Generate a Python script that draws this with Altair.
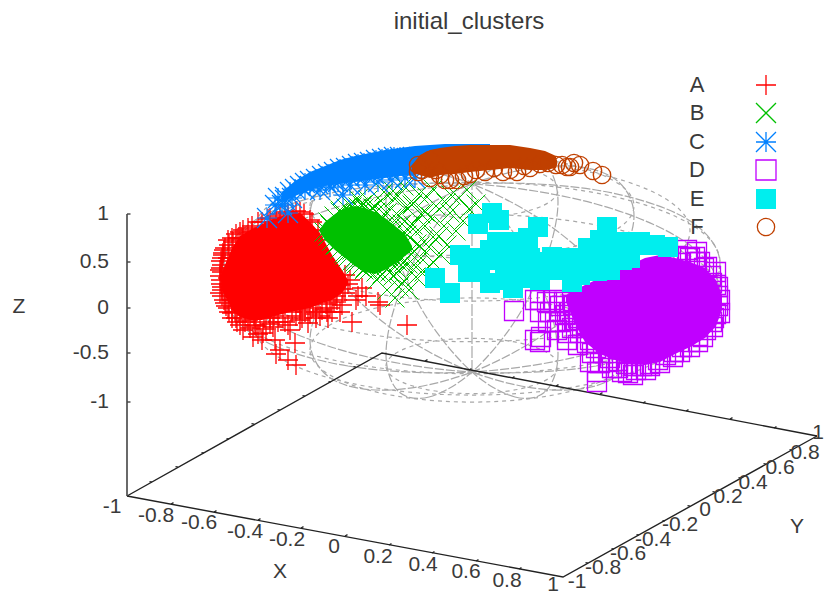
import altair as alt
import pandas as pd

FONT = "Liberation Sans"
TXT = "#3a3a3a"
GRAY = "#a8a8a8"
COL = dict(A="#ff0000", B="#00c000", C="#0080ff", D="#c000ff", E="#00eeee", F="#c04000")

# ---- everything is in projected screen units of the 3-D view ----
# outlines of the dense part of each cluster: x, top, bottom
red_core_x = [222, 232, 240, 250, 262, 275, 290, 300, 310, 320, 332, 342, 348]
red_core_t = [272, 248, 236, 230, 224, 218, 214, 213, 222, 233, 255, 270, 280]
red_core_b = [290, 310, 317, 320, 320, 316, 312, 310, 308, 304, 300, 293, 284]

green_core_x = [320, 325, 335, 345, 355, 365, 375, 385, 395, 405, 412]
green_core_t = [229, 222, 214, 208, 206, 208, 212, 218, 226, 234, 246]
green_core_b = [232, 240, 250, 258, 266, 272, 274, 270, 264, 256, 250]

blue_core_x = [282, 295, 310, 325, 340, 355, 370, 385, 400, 415, 430, 445, 460, 475, 490]
blue_core_t = [192, 181, 172, 166, 160, 156, 153, 150, 148, 146, 145, 144, 144, 144, 144]
blue_core_b = [202, 196, 190, 186, 184, 182, 180, 178, 176, 175, 170, 165, 160, 158, 155]

purple_core_x = [566, 575, 585, 600, 615, 630, 645, 660, 675, 690, 705, 716, 722]
purple_core_t = [295, 290, 285, 278, 272, 265, 258, 255, 258, 262, 268, 280, 295]
purple_core_b = [302, 324, 342, 354, 360, 364, 365, 362, 354, 347, 338, 326, 310]

brown_core_x = [412, 420, 430, 440, 455, 470, 490, 510, 530, 545, 556]
brown_core_t = [165, 155, 150, 148, 146, 145, 145, 145, 148, 151, 156]
brown_core_b = [172, 175, 178, 175, 174, 172, 170, 168, 170, 170, 168]

# individual points around and away from the dense parts
red_pts = [(352,322),(407,325),(380,305),(362,288),(378,302),(345,293),(332,312),(308,323),(290,330),(280,350),
           (295,343),(276,354),(296,365),(288,360),(253,337),(243,330),(263,333),(273,327),(300,320),(313,308),
           (337,300),(327,312),(237,322),(232,313),(225,303),(220,293),(222,287),(221,280),(222,272),(222,265),
           (223,255),(225,248),(228,240),(232,238),(240,232),(248,228),(258,222),(270,218),(280,214),(285,212),
           (293,215),(300,212),(310,220),(322,240),(350,280),(340,285),(345,275),(318,300),(305,312),(285,322),
           (270,318),(255,325),(248,320),(235,312),(228,308),(320,316),(342,305),(262,340),(275,340),(358,296),
           (224,250),(223,253),(222,258),(221,261),(221,268),(220,270),(220,276),(221,284),(222,290),(222,296),
           (224,300),(226,306),(229,312),(232,318),(236,234),(243,230),(252,226),(262,222),(268,219),(276,216),
           (288,213),(296,211),(304,214),(312,222),(318,230),(236,318),(240,325),(245,322),(250,328),(256,326),
           (260,322),(266,329),(270,324),(278,322),(283,318),(288,325),(296,316),(302,318),(310,314),(316,318),
           (322,310),(330,308),(336,296),(343,289),(348,284),(229,245),(233,242),(238,238),(246,312),(254,316),
           (264,318),(274,316),(292,312),(300,310),(326,304),(334,302),(242,238),(252,232),(228,258),(230,268),
           (228,278),(230,290),(232,300),(238,306),(316,312),(328,318),(356,300),(340,312),(366,296),(258,334)]

green_pts = [(393,191),(404,186),(419,194),(433,189),(451,195),(467,190),(381,201),(394,198),(413,203),(427,197),
             (446,203),(459,198),(476,204),(373,208),(387,213),(406,207),(421,214),(436,206),(450,213),(469,209),
             (379,222),(399,216),(413,225),(431,217),(444,226),(463,221),(373,233),(391,227),(407,235),(425,226),
             (439,236),(456,231),(384,243),(401,235),(417,244),(433,237),(447,245),(377,252),(396,246),(411,254),
             (429,247),(441,255),(371,260),(389,257),(404,262),(421,258),(433,262),(369,270),(386,266),(399,271),
             (416,267),(424,272),(377,280),(393,276),(404,281),(416,277),(387,290),(399,287),(409,290),(330,225),
             (340,210),(350,205),(362,205),(335,245),(345,255),(355,262),(365,268),(328,232),(352,250),(395,298),
             (324,232),(328,236),(332,241),(336,245),(340,249),(344,253),(348,257),(352,261),(356,264),(360,267),
             (364,270),(328,222),(334,216),(340,212),(346,208),(352,207),(358,207),(364,208),(370,210),(376,212),
             (384,214),(392,218),(402,224),(410,226),(416,232),(404,244),(410,238),(420,246),(396,256),(408,264),
             (376,272),(382,274),(390,272),(398,262),(368,200),(358,199),(384,192),(398,196),(412,205),(425,212)]

blue_pts = [(267,218),(288,213),(343,195),(285,200),(292,198),(305,190),(320,190),(330,187),(350,185),(365,185),
            (378,182),(392,180),(405,178),(415,178),(275,205),(282,205),(278,198),(338,182),(358,176),
            (285,197),(290,192),(295,189),(300,186),(305,183),(310,181),(316,179),(322,176),(328,174),(334,172),
            (340,169),(346,168),(352,166),(358,164),(364,163),(370,162),(376,160),(382,159),(388,158),(394,157),
            (400,157),(310,186),(318,184),(326,182),(334,181),(342,179),(350,178),(366,175),(374,174),
            (382,172),(390,171),(398,170),(406,168),(412,166)]

purple_pts = [(514,311),(540,342),(540,300),(547,302),(553,300),(535,300),(548,322),(555,322),(572,328),(568,333),
              (557,330),(597,382),(597,372),(628,373),(646,370),(600,363),(592,353),(587,343),(580,333),(660,363),
              (673,357),(690,347),(703,337),(713,327),(720,313),(720,300),(718,287),(716,272),(707,267),(697,252),
              (687,250),(680,263),(633,375),(618,368),(608,362),(575,320),(565,315),(560,306),(573,305),(586,325),
              (535,340),(541,337),(650,366),(680,352),(698,342),(714,318),(712,283),(700,262),(690,258),(540,312),
              (574,305),(578,318),(582,328),(590,340),(596,348),(603,353),(610,358),(618,361),(626,364),(634,366),
              (642,366),(650,364),(658,360),(666,355),(674,352),(682,347),(690,342),(698,336),(706,330),(712,322),
              (716,314),(718,306),(718,296),(716,285),(711,276),(704,268),(696,262),(688,257),(678,256),(695,257),
              (564,302),(570,312),(550,312),(560,322),(567,340),(578,345),(590,362),(612,368),(622,372),(636,370)]

cyan_pts = [(492,213),(478,224),(499,220),(538,227),(607,227),(497,242),(528,238),(460,255),(435,278),(450,293),
            (473,258),(490,283),(513,288),(533,278),(552,257),(573,270),(572,282),(588,248),(597,265),(617,255),
            (620,242),(640,242),(650,245),(668,247),(517,258),(480,272),(530,258),(553,268),(600,240),(490,260),
            (515,272),(630,250),(580,258),(505,262),(468,272),(596,248),(610,247),(625,246),(655,245),(585,258),
            (600,258),(642,245),(580,275),(597,271),(622,260),(610,270),(630,258),(560,270),(535,262),(535,272),
            (520,270),(510,242),(490,250),(503,250),(577,262),(563,258),(545,268),(540,280),(505,280)]

brown_pts = [(593,171),(580,165),(567,167),(570,167),(602,175),(562,165),(574,163),(450,180),(445,180),(457,180),
             (510,170),(503,172),(517,172),(430,178),(440,175),(422,170),(418,165),(430,160),(470,174),(485,172),
             (530,168),(548,163),(556,165),(418,172),(436,170),(464,176),(476,170),(494,168),(524,166),(540,164)]

# wire-frame sphere: latitude rings (centre height, half width)
ring_cy = [366, 350, 325, 294, 262, 231, 206, 190]
ring_r = [86, 162, 218, 248, 248, 218, 162, 86]

# meridian circles through the poles, read point by point
mer_a = [(472,372),(515,397),(546,391),(558,354),(546,297),(515,235),(472,184),(429,159),(398,165),(386,202),(398,259),(429,321)]
mer_b = [(472,372),(429,397),(398,391),(386,354),(398,297),(429,235),(472,184),(515,159),(546,165),(558,202),(546,259),(515,321)]
mer_c = [(472,372),(391,390),(332,379),(310,340),(332,285),(391,228),(472,184),(553,166),(612,177),(634,216),(612,271),(553,328)]
mer_d = [(472,372),(553,390),(612,379),(634,340),(612,285),(553,228),(472,184),(391,166),(332,177),(310,216),(332,271),(391,328)]
mer_e = [(472,372),(348,366),(257,337),(224,292),(257,243),(348,204),(472,184),(596,190),(687,219),(720,264),(687,313),(596,352)]
mer_f = [(472,372),(596,366),(687,337),(720,292),(687,243),(596,204),(472,184),(348,190),(257,219),(224,264),(257,313),(348,352)]
mer_v = [(472,372),(472,156)]

# box
base_front = [(127,496),(563,577),(817,436)]
base_back = [(127,496),(382,353),(817,436)]
z_axis = [(127,214),(127,496)]

z_ticks = [214, 262, 308, 353, 402]
z_labels = ["1", "0.5", "0", "-0.5", "-1"]
x_front_ticks = [(171,504),(214,512),(258,520),(301,528),(345,536),(389,545),(432,553),(476,561),(519,569)]
x_back_ticks = [(425,361),(469,370),(512,378),(556,386),(600,394),(643,403),(686,411),(730,419),(774,428)]
y_left_ticks = [(152,482),(178,467),(204,453),(229,439),(254,424),(280,410),(305,396),(331,382),(356,367)]
y_right_ticks = [(588,563),(614,549),(639,535),(665,521),(690,506),(715,492),(741,478),(766,464),(792,450)]

x_tick_text = ["-1","-0.8","-0.6","-0.4","-0.2","0","0.2","0.4","0.6","0.8","1"]
x_tick_pos = [(112,507),(156,516),(199,523),(245,532),(287,540),(334,547),(378,557),(423,565),(466,572),(507,581),(553,585)]
y_tick_pos = [(577,582),(603,568),(628,554),(653,540),(680,525),(705,510),(728,497),(753,483),(780,468),(805,453),(818,433)]

legend_names = ["A", "B", "C", "D", "E", "F"]
legend_y = [85, 113, 142, 170, 199, 227]
legend_text_x = 697
legend_mark_x = 766

# ---- encodings ----
X = alt.X("x:Q", scale=alt.Scale(domain=[8, 824], nice=False, zero=False), axis=None)
Y = alt.Y("y:Q", scale=alt.Scale(domain=[597, 8], nice=False, zero=False), axis=None)

PLUS = "M-1,0L1,0M0,-1L0,1"
CROSS = "M-1,-1L1,1M-1,1L1,-1"
STAR = "M-1,0L1,0M0,-1L0,1M-1,-1L1,1M-1,1L1,-1"
RING = ("M-1,0C-1,-.1775,-.5523,-.3214,0,-.3214C.5523,-.3214,1,-.1775,1,0"
        "C1,.1775,.5523,.3214,0,.3214C-.5523,.3214,-1,.1775,-1,0Z")
TICK_X = "M0,0L1,-.55"
TICK_Y = "M0,0L-1,-.18"


def pts(p):
    return pd.DataFrame(p, columns=["x", "y"])


def core(xs, t, b, color):
    d = pd.DataFrame({"x": xs, "y": t, "y2": b})
    return alt.Chart(d).mark_area(color=color, interpolate="linear", opacity=1).encode(
        x=X, y=Y, y2=alt.Y2("y2:Q"))


def scatter(p, shape, color, size, filled=False, sw=1.3):
    kw = dict(shape=shape, size=size, opacity=1, filled=filled)
    if filled:
        kw.update(fill=color, stroke=color, strokeWidth=0)
    else:
        kw.update(stroke=color, strokeWidth=sw)
    return alt.Chart(pts(p)).mark_point(**kw).encode(x=X, y=Y)


def path_line(p, color, width, dash=None, closed=False):
    d = pts(p)
    d["i"] = range(len(d))
    kw = dict(color=color, strokeWidth=width)
    if dash:
        kw["strokeDash"] = dash
    if closed:
        kw.update(interpolate="cardinal-closed")
    return alt.Chart(d).mark_line(**kw).encode(x=X, y=Y, order="i:Q")


def labels(df, size=21, align="center", color=TXT):
    return alt.Chart(df).mark_text(font=FONT, fontSize=size, align=align, baseline="middle", color=color).encode(
        x=X, y=Y, text="t:N")


layers = []

# sphere
rings = pd.DataFrame({"x": [472] * len(ring_cy), "y": ring_cy, "s": [(2 * r) ** 2 for r in ring_r]})
layers.append(alt.Chart(rings).mark_point(shape=RING, filled=False, opacity=1, stroke=GRAY,
                                          strokeWidth=1.2, strokeDash=[4, 4]).encode(
    x=X, y=Y, size=alt.Size("s:Q", scale=None, legend=None)))
for m in (mer_a, mer_b, mer_c, mer_d, mer_e, mer_f):
    layers.append(path_line(m, GRAY, 1.2, dash=[9, 2], closed=True))
layers.append(path_line(mer_v, GRAY, 1.2, dash=[12, 2]))

# box
layers.append(path_line(base_front, "#222222", 1.4))
layers.append(path_line(base_back, "#222222", 1.4))
layers.append(path_line(z_axis, "#444444", 1.6))
z_t = pd.DataFrame({"x": [127] * 5, "y": z_ticks})
layers.append(alt.Chart(z_t).mark_point(shape="M0,0L1,0", size=49, opacity=1, filled=False,
                                        stroke="#444444", strokeWidth=1.4).encode(x=X, y=Y))
for tk in (x_front_ticks, x_back_ticks):
    layers.append(scatter(tk, TICK_X, "#222222", 25, sw=1.2))
for tk in (y_left_ticks, y_right_ticks):
    layers.append(scatter(tk, TICK_Y, "#222222", 25, sw=1.2))

# clusters
layers += [core(red_core_x, red_core_t, red_core_b, COL["A"]), scatter(red_pts, PLUS, COL["A"], 400)]
layers += [core(green_core_x, green_core_t, green_core_b, COL["B"]), scatter(green_pts, CROSS, COL["B"], 361, sw=1.0)]
layers += [core(blue_core_x, blue_core_t, blue_core_b, COL["C"]), scatter(blue_pts, STAR, COL["C"], 400, sw=1.2)]
layers += [core(purple_core_x, purple_core_t, purple_core_b, COL["D"]), scatter(purple_pts, "square", COL["D"], 361)]
layers += [scatter(cyan_pts, "square", COL["E"], 400, filled=True)]
layers += [core(brown_core_x, brown_core_t, brown_core_b, COL["F"]), scatter(brown_pts, "circle", COL["F"], 300, sw=1.4)]

# tick labels and axis names
zl = pd.DataFrame({"x": [109] * 5, "y": z_ticks, "t": z_labels})
layers.append(labels(zl, align="right"))
xl = pts(x_tick_pos); xl["t"] = x_tick_text
yl = pts(y_tick_pos); yl["t"] = x_tick_text
layers += [labels(xl), labels(yl)]
names = pd.DataFrame({"x": [19, 280, 797], "y": [307, 572, 527], "t": ["Z", "X", "Y"]})
layers.append(labels(names))

# key
kl = pd.DataFrame({"x": [legend_text_x] * 6, "y": legend_y, "t": legend_names})
layers.append(labels(kl, size=22))
shapes = [(PLUS, 400, False), (CROSS, 400, False), (STAR, 400, False), ("square", 400, False), ("square", 400, True), ("circle", 300, False)]
for n, yy, (sh, sz, fl) in zip(legend_names, legend_y, shapes):
    layers.append(scatter([(legend_mark_x, yy)], sh, COL[n], sz, filled=fl))

chart = alt.layer(*layers).properties(
    width=816, height=589, padding=0,
    autosize=alt.AutoSizeParams(type="none"),
    title=alt.TitleParams("initial_clusters", font=FONT, fontSize=24, fontWeight="normal", color=TXT,
                          anchor="middle", dx=53, offset=-26, orient="top"),
).configure(background="white", view=alt.ViewConfig(strokeWidth=0))

chart.save("out.html", embed_options={"renderer": "svg", "actions": False})
